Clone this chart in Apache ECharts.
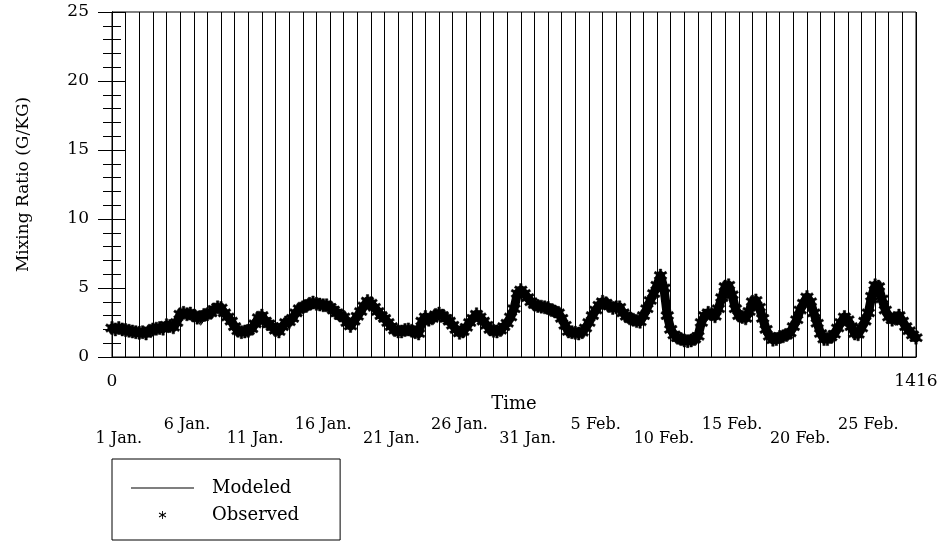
<!DOCTYPE html>
<html>
<head>
<meta charset="utf-8">
<title>Mixing Ratio</title>
<script src="https://cdn.jsdelivr.net/npm/echarts@6/dist/echarts.min.js"></script>
<style>
  html, body { margin: 0; padding: 0; background: #fff; }
  #chart { width: 945px; height: 542px; }
</style>
</head>
<body>
<div id="chart"></div>
<script>
// Time axis: hours from 1 Jan 00:00 to the end of February
const hourMin = 0;
const hourMax = 1416;
const hoursPerDay = 24;

// Observed mixing ratio (g/kg), one value every 6 hours, four per day
const observedStep = 6;
const observed = [
  2.1, 2.0, 2.1, 2.0,      1.95, 1.9, 1.85, 1.8,   1.75, 1.8, 1.7, 1.9,    2.0, 2.05, 2.1, 2.05,
  2.3, 2.25, 2.15, 2.5,    3.1, 3.2, 3.1, 3.15,    3.0, 2.85, 2.9, 3.05,   3.1, 3.2, 3.45, 3.6,
  3.55, 3.2, 2.9, 2.6,     2.2, 1.9, 1.8, 1.85,    1.9, 2.05, 2.4, 2.85,   3.0, 2.6, 2.4, 2.2,
  1.95, 1.85, 2.2, 2.5,    2.55, 2.8, 3.2, 3.5,    3.6, 3.7, 3.85, 3.95,   3.85, 3.8, 3.75, 3.75,
  3.6, 3.4, 3.2, 3.0,      2.9, 2.5, 2.25, 2.6,    2.95, 3.3, 3.7, 4.05,   3.9, 3.6, 3.3, 3.0,
  2.8, 2.5, 2.2, 1.95,     1.85, 1.85, 1.95, 2.0,  1.9, 1.8, 1.7, 2.6,     2.9, 2.7, 2.8, 3.05,
  3.15, 3.0, 2.8, 2.6,     2.3, 2.0, 1.75, 1.85,   2.15, 2.5, 2.8, 3.1,    2.9, 2.6, 2.3, 2.0,
  1.9, 1.85, 1.95, 2.2,    2.45, 2.9, 3.5, 4.6,    4.85, 4.6, 4.3, 4.0,    3.8, 3.7, 3.65, 3.6,
  3.55, 3.4, 3.3, 3.2,     2.8, 2.3, 1.85, 1.8,    1.75, 1.7, 1.8, 2.1,    2.5, 3.0, 3.4, 3.75,
  4.0, 3.9, 3.7, 3.55,     3.6, 3.6, 3.2, 2.95,    2.8, 2.7, 2.6, 2.55,    3.0, 3.5, 4.1, 4.6,
  5.2, 5.9, 5.0, 3.0,      2.0, 1.6, 1.4, 1.3,     1.2, 1.15, 1.2, 1.3,    1.5, 2.5, 3.0, 3.2,
  3.1, 2.95, 3.5, 4.3,     5.1, 5.2, 4.5, 3.5,     3.0, 2.9, 2.8, 3.3,     4.0, 4.1, 3.6, 2.8,
  2.0, 1.5, 1.25, 1.3,     1.45, 1.5, 1.6, 1.75,   2.2, 2.7, 3.4, 3.9,     4.35, 4.0, 3.2, 2.45,
  1.7, 1.3, 1.3, 1.45,     1.65, 2.1, 2.5, 2.9,    2.7, 2.2, 1.7, 1.65,    2.1, 2.6, 3.2, 4.4,
  5.2, 5.1, 4.2, 3.4,      2.9, 2.7, 2.8, 3.0,     2.6, 2.2, 1.9, 1.6,
  1.4
];

// Modeled mixing ratio (g/kg), one value every 12 hours
const modeledStep = 12;
const modeled = [
  2.1, 2.05, 1.9, 1.85, 1.7, 1.75, 1.95, 2.1, 2.25, 2.1,
  3.0, 3.15, 3.0, 2.3, 3.0, 3.4, 3.5, 2.9, 2.1, 1.8,
  1.9, 2.35, 2.95, 2.35, 1.9, 2.1, 2.5, 3.1, 3.5, 3.8,
  3.8, 3.7, 3.55, 2.7, 2.85, 2.2, 2.9, 3.6, 3.95, 3.3,
  2.75, 2.2, 1.8, 1.9, 1.85, 1.65, 2.8, 2.75, 3.1, 2.75,
  2.25, 1.7, 2.1, 2.8, 2.85, 2.3, 1.85, 1.9, 2.4, 3.4,
  4.7, 4.3, 3.3, 3.6, 3.4, 3.2, 2.7, 1.8, 1.7, 1.75,
  2.4, 3.3, 3.9, 3.6, 3.5, 3.1, 2.7, 2.5, 2.9, 3.9,
  5.0, 5.2, 2.1, 1.45, 1.2, 1.2, 1.5, 2.9, 3.1, 3.3,
  4.9, 4.6, 3.0, 2.8, 3.9, 3.7, 2.0, 1.25, 1.4, 1.6,
  2.1, 3.3, 4.3, 3.2, 1.7, 1.3, 1.6, 2.4, 2.7, 1.7,
  2.0, 3.1, 5.1, 4.3, 2.9, 2.3, 2.6, 1.9, 1.4
];

// Date labels under the time axis, in two staggered rows (day index from 1 Jan)
const lowerDateDays = [0, 10, 20, 30, 40, 50];
const lowerDateLabels = ['1 Jan.', '11 Jan.', '21 Jan.', '31 Jan.', '10 Feb.', '20 Feb.'];
const upperDateDays = [5, 15, 25, 35, 45, 55];
const upperDateLabels = ['6 Jan.', '16 Jan.', '26 Jan.', '5 Feb.', '15 Feb.', '25 Feb.'];

// Y axis range
const ratioMin = 0;
const ratioMax = 25;
const ratioMajor = 5;

const FONT = 'DejaVu Serif';

// noon of each labelled day
const dayToHour = d => d * hoursPerDay + hoursPerDay / 2;
function labelAxis(days, labels, margin) {
  const lookup = {};
  days.forEach((d, i) => { lookup[dayToHour(d)] = labels[i]; });
  return {
    type: 'value', gridIndex: 0, position: 'bottom',
    min: hourMin, max: hourMax,
    axisLine: { show: false }, axisTick: { show: false }, splitLine: { show: false },
    axisLabel: {
      customValues: days.map(dayToHour),
      formatter: v => lookup[v] || '',
      margin: margin, color: '#000', fontFamily: FONT, fontSize: 16
    }
  };
}

// asterisk marker: a vertical bar crossed by two diagonals
const asterisk = 'path://M4.1,0H5.9V10H4.1Z M0.2,3.3L1.1,1.7L9.8,6.7L8.9,8.3Z M1.1,8.3L0.2,6.7L8.9,1.7L9.8,3.3Z';
const legendAsterisk = 'path://M4.45,0H5.55V10H4.45Z M0.4,3.0L0.95,2.0L9.6,7.0L9.05,8.0Z M0.95,8.0L0.4,7.0L9.05,2.0L9.6,3.0Z';

const yAxisBase = {
  type: 'value', gridIndex: 0,
  min: ratioMin, max: ratioMax, interval: ratioMajor,
  axisLine: { show: true, lineStyle: { color: '#000', width: 1 } },
  axisTick: { show: true, inside: true, length: 14, lineStyle: { color: '#000', width: 1 } },
  minorTick: { show: true, splitNumber: 5, length: 9, lineStyle: { color: '#000', width: 1 } },
  splitLine: { show: false }
};

const chart = echarts.init(document.getElementById('chart'), null, { renderer: 'canvas' });
chart.setOption({
  animation: false,
  backgroundColor: '#fff',
  grid: {
    left: 112, top: 12, width: 804, height: 345,
    show: true, borderColor: '#000', borderWidth: 1, backgroundColor: 'transparent'
  },
  legend: {
    left: 112, top: 459,
    height: 45,
    orient: 'vertical',
    padding: [20, 41, 16, 19],
    itemGap: 9,
    itemWidth: 63, itemHeight: 8,
    borderColor: '#000', borderWidth: 1, borderRadius: 0,
    selectedMode: false,
    textStyle: { color: '#000', fontFamily: FONT, fontSize: 18, lineHeight: 18, padding: [0, 0, 0, 13] },
    data: [
      { name: 'Modeled', icon: 'path://M0,0H63V1H0Z' },
      { name: 'Observed', icon: legendAsterisk, itemStyle: { borderWidth: 0 } }
    ]
  },
  xAxis: [
    {
      type: 'value', gridIndex: 0,
      min: hourMin, max: hourMax, interval: hoursPerDay,
      axisLine: { show: true, lineStyle: { color: '#000', width: 1 } },
      axisTick: { show: false },
      splitLine: { show: true, lineStyle: { color: '#000', width: 1 } },
      axisLabel: {
        customValues: [hourMin, hourMax],
        formatter: v => String(v),
        margin: 16, color: '#000', fontFamily: FONT, fontSize: 17
      },
      name: 'Time', nameLocation: 'middle', nameGap: 38,
      nameTextStyle: { color: '#000', fontFamily: FONT, fontSize: 18 }
    },
    labelAxis(upperDateDays, upperDateLabels, 60),
    labelAxis(lowerDateDays, lowerDateLabels, 74)
  ],
  yAxis: [
    Object.assign({}, yAxisBase, {
      position: 'left',
      axisLabel: { margin: 23, color: '#000', fontFamily: FONT, fontSize: 17 },
      name: 'Mixing Ratio (G/KG)', nameLocation: 'middle', nameGap: 80, nameRotate: 90,
      nameTextStyle: { color: '#000', fontFamily: FONT, fontSize: 17 }
    }),
    Object.assign({}, yAxisBase, {
      position: 'right',
      axisLabel: { show: false }
    })
  ],
  series: [
    {
      // dense hourly-style band: thick trace overlaid with asterisk marks
      name: 'Observed', type: 'line',
      xAxisIndex: 0, yAxisIndex: 0,
      symbol: asterisk, symbolSize: 13,
      showSymbol: true, showAllSymbol: true,
      lineStyle: { color: '#000', width: 9, join: 'round', cap: 'round' },
      itemStyle: { color: '#000', borderColor: '#000', borderWidth: 0.5 },
      data: observed.map((v, i) => [i * observedStep, v]),
      z: 3
    },
    {
      name: 'Modeled', type: 'line',
      xAxisIndex: 0, yAxisIndex: 0,
      showSymbol: false, symbol: 'none',
      lineStyle: { color: '#000', width: 1 },
      itemStyle: { color: '#000' },
      data: modeled.map((v, i) => [i * modeledStep, v]),
      z: 4
    }
  ]
});
</script>
</body>
</html>
